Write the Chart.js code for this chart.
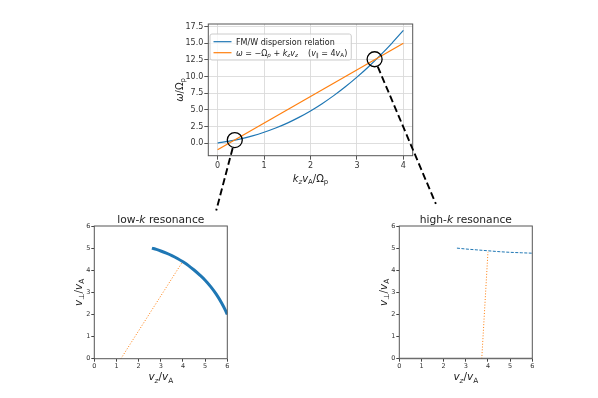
<!DOCTYPE html>
<html>
<head>
<meta charset="utf-8">
<script src="https://cdn.jsdelivr.net/npm/chart.js@4.4.1/dist/chart.umd.min.js"></script>
<style>
  html, body { margin: 0; padding: 0; background: #fff; }
  #wrap { position: relative; width: 598px; height: 398px; }
  #wrap canvas { position: absolute; left: 0; top: 0; }
</style>
</head>
<body>
<div id="wrap">
  <canvas id="topChart" width="598" height="398"></canvas>
  <canvas id="lowChart" width="598" height="398"></canvas>
  <canvas id="highChart" width="598" height="398"></canvas>
  <canvas id="links" width="598" height="398"></canvas>
</div>
<script>
// dispersion panel
const kGrid = [0, 0.25, 0.5, 0.75, 1, 1.25, 1.5, 1.75, 2, 2.25, 2.5, 2.75, 3, 3.25, 3.5, 3.75, 4];
const omegaFMW = [0, 0.28, 0.64, 1.08, 1.62, 2.26, 3.0, 3.86, 4.83, 5.92, 7.13, 8.46, 9.91, 11.48, 13.18, 15.0, 16.94];
const kLine = [0, 4];
const omegaRes = [-1, 15];
const circleK = [0.37, 3.38];
const circleOmega = [0.45, 12.6];
const topXTicks = [0, 1, 2, 3, 4];
const topYTicks = [0, 2.5, 5, 7.5, 10, 12.5, 15, 17.5];
const seriesNames = ['FM/W dispersion relation', 'ω = −Ω_p + k_z v_z    (v_∥ = 4v_A)'];

// low-k resonance panel
const lowVz = [2.6, 2.8, 3.0, 3.25, 3.5, 3.75, 4.0, 4.25, 4.5, 4.75, 5.0, 5.25, 5.5, 5.75, 5.9, 6.0];
const lowVperp = [5.0, 4.94, 4.87, 4.77, 4.66, 4.53, 4.38, 4.21, 4.01, 3.79, 3.55, 3.26, 2.92, 2.51, 2.22, 2.0];
const lowLineVz = [1.2, 3.94];
const lowLineVperp = [0, 4.32];

// high-k resonance panel
const highVz = [2.6, 3.0, 3.5, 4.0, 4.5, 5.0, 5.5, 6.0];
const highVperp = [5.0, 4.96, 4.92, 4.88, 4.84, 4.81, 4.79, 4.77];
const highLineVz = [3.72, 4.0];
const highLineVperp = [0, 4.83];
const highBaseVz = [0, 6];
const highBaseVperp = [0, 0];
const velTicks = [0, 1, 2, 3, 4, 5, 6];

// where the zoom connectors end, in bottom-panel units
const linkEndVz = [5.5, 1.65];
const linkEndVperp = [6.7, 7.0];

const BLUE = '#1f77b4', ORANGE = '#ff7f0e';
const FONT = '"DejaVu Sans", sans-serif';
const CIRCLE_R = 7.5;

Chart.defaults.font.family = FONT;
Chart.defaults.color = '#333';

function pts(xs, ys) {
    return xs.map((x, i) => ({ x: x, y: ys[i] }));
}

// text with italic / subscript pieces, like matplotlib mathtext
function drawRich(ctx, parts, x, y, size, rot, align) {
    const fontOf = f => (f.includes('i') ? 'oblique ' : '') + (f.includes('s') ? size * 0.7 : size) + 'px ' + FONT;
    let w = 0;
    parts.forEach(([t, f]) => { ctx.font = fontOf(f); w += ctx.measureText(t).width; });
    ctx.save();
    ctx.translate(x, y);
    if (rot) ctx.rotate(rot);
    ctx.textBaseline = 'alphabetic';
    ctx.textAlign = 'left';
    let cx = align === 'left' ? 0 : -w / 2;
    parts.forEach(([t, f]) => {
        ctx.font = fontOf(f);
        ctx.fillText(t, cx, f.includes('s') ? size * 0.22 : 0);
        cx += ctx.measureText(t).width;
    });
    ctx.restore();
    return w;
}

function richWidth(ctx, parts, size) {
    let w = 0;
    parts.forEach(([t, f]) => {
        ctx.font = (f.includes('i') ? 'oblique ' : '') + (f.includes('s') ? size * 0.7 : size) + 'px ' + FONT;
        w += ctx.measureText(t).width;
    });
    return w;
}

const frame = {
    id: 'frame',
    afterDatasetsDraw(chart) {
        const ctx = chart.ctx, a = chart.chartArea;
        ctx.save();
        ctx.strokeStyle = '#555';
        ctx.lineWidth = 1;
        ctx.strokeRect(a.left, a.top, a.right - a.left, a.bottom - a.top);
        ctx.restore();
    }
};

const richLabels = {
    id: 'richLabels',
    afterDraw(chart, args, opts) {
        const ctx = chart.ctx, a = chart.chartArea;
        const cx = (a.left + a.right) / 2, cy = (a.top + a.bottom) / 2;
        ctx.save();
        ctx.fillStyle = '#222';
        if (opts.x) drawRich(ctx, opts.x, cx, a.bottom + opts.xGap, opts.size);
        if (opts.y) drawRich(ctx, opts.y, a.left - opts.yGap, cy, opts.size, -Math.PI / 2);
        if (opts.title) drawRich(ctx, opts.title, cx, a.top - opts.titleGap, opts.titleSize);
        ctx.restore();
    }
};

const legendParts = [
    [['FM/W dispersion relation', '']],
    [['ω', 'i'], [' = −', ''], ['Ω', ''], ['p', 'is'], [' + ', ''], ['k', 'i'], ['z', 'is'], ['v', 'i'], ['z', 'is'],
     ['    (', ''], ['v', 'i'], ['∥', 's'], [' = 4', ''], ['v', 'i'], ['A', 's'], [')', '']]
];

const topLegend = {
    id: 'topLegend',
    afterDraw(chart) {
        const ctx = chart.ctx, a = chart.chartArea;
        const size = 8;
        const textW = Math.max(...legendParts.map(p => richWidth(ctx, p, size)));
        const x = a.left + 1.7, y = a.top + 10, w = textW + 30, h = 26;
        ctx.save();
        ctx.fillStyle = 'rgba(255,255,255,0.8)';
        ctx.strokeStyle = '#cccccc';
        ctx.lineWidth = 1;
        ctx.beginPath();
        ctx.roundRect(x, y, w, h, 2);
        ctx.fill();
        ctx.stroke();
        legendParts.forEach((parts, i) => {
            const ry = y + 7.7 + i * 11;
            ctx.strokeStyle = chart.data.datasets[i].borderColor;
            ctx.lineWidth = 1.2;
            ctx.beginPath();
            ctx.moveTo(x + 3.5, ry);
            ctx.lineTo(x + 21.5, ry);
            ctx.stroke();
            ctx.fillStyle = '#222';
            drawRich(ctx, parts, x + 26, ry + 2.9, size, 0, 'left');
        });
        ctx.restore();
    }
};

function fixedTicks(list) {
    return scale => { scale.ticks = list.map(v => ({ value: v })); };
}

// dispersion relation
const topChart = new Chart(document.getElementById('topChart'), {
    type: 'scatter',
    data: {
        datasets: [{
            label: seriesNames[0],
            data: pts(kGrid, omegaFMW),
            showLine: true,
            borderColor: BLUE,
            borderWidth: 1.2,
            pointRadius: 0,
            cubicInterpolationMode: 'monotone',
            order: 2
        }, {
            label: seriesNames[1],
            data: pts(kLine, omegaRes),
            showLine: true,
            borderColor: ORANGE,
            borderWidth: 1.2,
            pointRadius: 0,
            order: 1
        }, {
            label: 'resonances',
            data: pts(circleK, circleOmega),
            showLine: false,
            pointRadius: CIRCLE_R,
            pointBorderColor: '#000',
            pointBackgroundColor: 'rgba(0,0,0,0)',
            pointBorderWidth: 1.3,
            order: 0
        }]
    },
    options: {
        responsive: false,
        animation: false,
        events: [],
        layout: { padding: { left: 168.3, right: 185.3, top: 24, bottom: 222.3 } },
        plugins: {
            legend: { display: false },
            tooltip: { enabled: false },
            richLabels: {
                size: 10, xGap: 25.8, yGap: 25.8,
                x: [['k', 'i'], ['z', 'is'], ['v', 'i'], ['A', 's'], ['/Ω', ''], ['p', 's']],
                y: [['ω', 'i'], ['/Ω', ''], ['p', 's']]
            }
        },
        scales: {
            x: {
                type: 'linear', min: -0.2, max: 4.2,
                afterBuildTicks: fixedTicks(topXTicks),
                afterFit: s => { s.height = 20; },
                ticks: { font: { size: 8 }, padding: 1, maxRotation: 0, autoSkip: false, callback: v => String(v) },
                grid: { color: '#dadada', lineWidth: 0.9, tickColor: '#444', tickLength: 4 },
                border: { display: false }
            },
            y: {
                type: 'linear', min: -1.9, max: 17.9,
                afterBuildTicks: fixedTicks(topYTicks),
                afterFit: s => { s.width = 40; },
                ticks: { font: { size: 8 }, padding: 1, autoSkip: false, callback: v => v.toFixed(1) },
                grid: { color: '#dadada', lineWidth: 0.9, tickColor: '#444', tickLength: 4 },
                border: { display: false }
            }
        }
    },
    plugins: [frame, richLabels, topLegend]
});

function velocityOptions(padLeft, padRight, title) {
    const axis = {
        type: 'linear', min: 0, max: 6,
        afterBuildTicks: fixedTicks(velTicks),
        ticks: { font: { size: 6.5 }, padding: 1, maxRotation: 0, autoSkip: false, callback: v => String(v) },
        grid: { drawOnChartArea: false, tickColor: '#444', tickLength: 3 },
        border: { display: false }
    };
    return {
        responsive: false,
        animation: false,
        events: [],
        layout: { padding: { left: padLeft, right: padRight, top: 226, bottom: 24.3 } },
        plugins: {
            legend: { display: false },
            tooltip: { enabled: false },
            richLabels: {
                size: 10.5, xGap: 21.5, yGap: 12.6, titleSize: 10.7, titleGap: 3.5,
                title: title,
                x: [['v', 'i'], ['z', 'is'], ['/', ''], ['v', 'i'], ['A', 's']],
                y: [['v', 'i'], ['⊥', 's'], ['/', ''], ['v', 'i'], ['A', 's']]
            }
        },
        scales: {
            x: Object.assign({}, axis, { afterFit: s => { s.height = 15; } }),
            y: Object.assign({}, axis, { afterFit: s => { s.width = 20; } })
        }
    };
}

const lowChart = new Chart(document.getElementById('lowChart'), {
    type: 'scatter',
    data: {
        datasets: [{
            data: pts(lowVz, lowVperp),
            showLine: true,
            borderColor: BLUE,
            borderWidth: 3,
            pointRadius: 0,
            cubicInterpolationMode: 'monotone',
            order: 1
        }, {
            data: pts(lowLineVz, lowLineVperp),
            showLine: true,
            borderColor: ORANGE,
            borderWidth: 1,
            borderDash: [1, 1.8],
            pointRadius: 0,
            order: 0
        }]
    },
    options: velocityOptions(74.3, 370.7, [['low-', ''], ['k', 'i'], [' resonance', '']]),
    plugins: [frame, richLabels]
});

const highChart = new Chart(document.getElementById('highChart'), {
    type: 'scatter',
    data: {
        datasets: [{
            data: pts(highBaseVz, highBaseVperp),
            showLine: true,
            borderColor: '#b4b4b4',
            borderWidth: 2.5,
            pointRadius: 0,
            order: 2
        }, {
            data: pts(highVz, highVperp),
            showLine: true,
            borderColor: BLUE,
            borderWidth: 1,
            borderDash: [3, 1.5],
            pointRadius: 0,
            cubicInterpolationMode: 'monotone',
            order: 1
        }, {
            data: pts(highLineVz, highLineVperp),
            showLine: true,
            borderColor: ORANGE,
            borderWidth: 1,
            borderDash: [1, 1.8],
            pointRadius: 0,
            order: 0
        }]
    },
    options: velocityOptions(379.3, 65.7, [['high-', ''], ['k', 'i'], [' resonance', '']]),
    plugins: [frame, richLabels]
});

// dashed connectors from the circled resonances to their zoomed panels
function drawLinks() {
    const ctx = document.getElementById('links').getContext('2d');
    const targets = [lowChart, highChart];
    ctx.strokeStyle = '#000';
    ctx.lineWidth = 1.9;
    ctx.setLineDash([7, 3.5]);
    circleK.forEach((k, i) => {
        const x0 = topChart.scales.x.getPixelForValue(k);
        const y0 = topChart.scales.y.getPixelForValue(circleOmega[i]);
        const t = targets[i];
        const x1 = t.scales.x.getPixelForValue(linkEndVz[i]);
        const y1 = t.scales.y.getPixelForValue(linkEndVperp[i]);
        const len = Math.hypot(x1 - x0, y1 - y0);
        const r = CIRCLE_R + 0.6;
        ctx.beginPath();
        ctx.moveTo(x0 + (x1 - x0) * r / len, y0 + (y1 - y0) * r / len);
        ctx.lineTo(x1, y1);
        ctx.stroke();
    });
}

drawLinks();
</script>
</body>
</html>
